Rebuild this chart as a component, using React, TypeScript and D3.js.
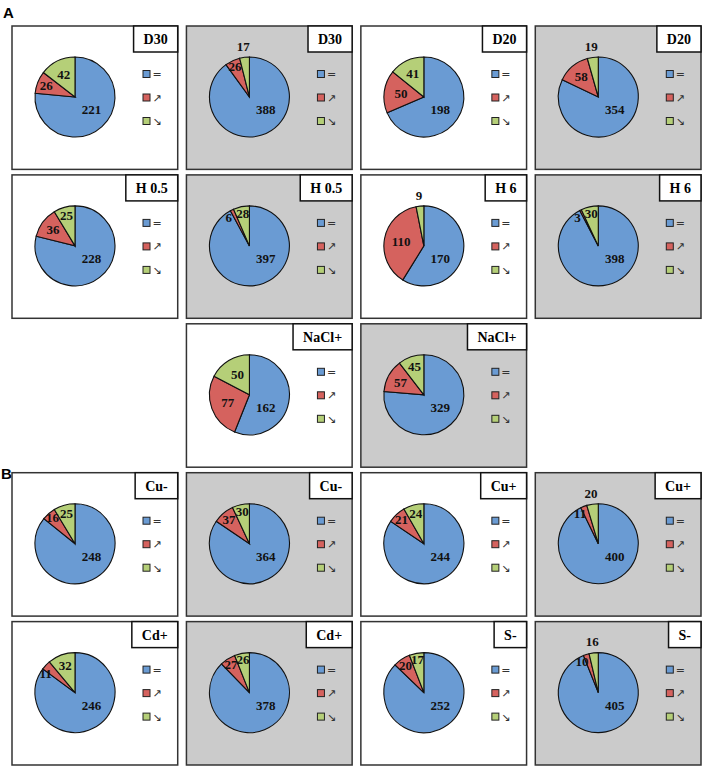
import { useEffect, useRef } from 'react'
import * as d3 from 'd3'

// one entry per panel, left to right, top to bottom
const titles = ['D30', 'D30', 'D20', 'D20', 'H 0.5', 'H 0.5', 'H 6', 'H 6', 'NaCl+', 'NaCl+',
  'Cu-', 'Cu-', 'Cu+', 'Cu+', 'Cd+', 'Cd+', 'S-', 'S-']
const unchanged = [221, 388, 198, 354, 228, 397, 170, 398, 162, 329, 248, 364, 244, 400, 246, 378, 252, 405]
const upRegulated = [26, 26, 50, 58, 36, 6, 110, 3, 77, 57, 16, 37, 21, 11, 11, 27, 20, 10]
const downRegulated = [42, 17, 41, 19, 25, 28, 9, 30, 50, 45, 25, 30, 24, 20, 32, 26, 17, 16]
const shaded = [false, true, false, true, false, true, false, true, false, true,
  false, true, false, true, false, true, false, true]

// \uFE0E keeps the arrows as plain text glyphs, not emoji
const legendLabels = ['=', '\u2197\uFE0E', '\u2198\uFE0E']
const sliceColors = ['#6a9bd3', '#d5625e', '#b5cf78']

const W = 708
const H = 768

// grid cell for panel i (section A: 4+4+2 centred, section B: 4+4)
function cellOf(i: number): [number, number] {
  if (i < 8) return [Math.floor(i / 4), i % 4]
  if (i < 10) return [2, i - 7]
  return [3 + Math.floor((i - 10) / 4), (i - 10) % 4]
}

export default function App() {
  const svgRef = useRef<SVGSVGElement>(null)

  useEffect(() => {
    if (!svgRef.current) return
    const svg = d3.select(svgRef.current)
    svg.selectAll('*').remove()

    svg.append('rect').attr('width', W).attr('height', H).attr('fill', '#fff')

    const colX = d3.scaleBand<number>().domain([0, 1, 2, 3]).range([12, 701]).paddingInner(0.05)
    const rowY = d3.scaleBand<number>().domain([0, 1, 2, 3, 4]).range([26, 765]).paddingInner(0.037)
    const pw = colX.bandwidth()
    const ph = rowY.bandwidth()

    const r = 40
    const pcx = 63
    const pcy = 71

    const pie = d3.pie<number>().sort(null).value(d => d)
    const arc = d3.arc<d3.PieArcDatum<number>>().innerRadius(0).outerRadius(r)

    // section letters
    svg.append('text').attr('x', 3).attr('y', 18)
      .attr('font-family', 'Liberation Sans, Arial, sans-serif')
      .attr('font-weight', 'bold').attr('font-size', 15).text('A')
    svg.append('text').attr('x', 1).attr('y', 479)
      .attr('font-family', 'Liberation Sans, Arial, sans-serif')
      .attr('font-weight', 'bold').attr('font-size', 15).text('B')

    titles.forEach((title, i) => {
      const [row, col] = cellOf(i)
      const g = svg.append('g')
        .attr('transform', `translate(${colX(col)}, ${rowY(row)})`)

      g.append('rect')
        .attr('width', pw).attr('height', ph)
        .attr('fill', shaded[i] ? '#cbcbcb' : '#fff')
        .attr('stroke', '#333').attr('stroke-width', 1.5)

      // title box in the top right corner
      const tt = g.append('text')
        .attr('font-family', 'Liberation Serif, Times New Roman, serif')
        .attr('font-weight', 'bold').attr('font-size', 14)
        .attr('text-anchor', 'middle').attr('dominant-baseline', 'central')
        .text(title)
      const tw = (tt.node() as SVGTextElement).getComputedTextLength()
      const bw = tw + 20
      const bh = 26
      g.insert('rect', 'text')
        .attr('x', pw - bw).attr('y', 0)
        .attr('width', bw).attr('height', bh)
        .attr('fill', '#fff').attr('stroke', '#111').attr('stroke-width', 1.5)
      tt.attr('x', pw - bw / 2).attr('y', bh / 2 + 0.5)

      // pie
      const values = [unchanged[i], upRegulated[i], downRegulated[i]]
      const arcs = pie(values)
      const pg = g.append('g').attr('transform', `translate(${pcx}, ${pcy})`)
      pg.selectAll('path')
        .data(arcs)
        .join('path')
        .attr('d', arc)
        .attr('fill', (_, k) => sliceColors[k])
        .attr('stroke', '#111').attr('stroke-width', 1.1)

      // slice labels, roughly like "best fit"
      arcs.forEach((a, k) => {
        const span = ((a.endAngle - a.startAngle) * 180) / Math.PI
        const mid = (a.startAngle + a.endAngle) / 2
        let ang = mid
        let rad: number
        if (span > 180) {
          ang = (128 * Math.PI) / 180
          rad = 0.52 * r
        } else if (span < 18) {
          if (k === 2) {
            rad = r + 11
          } else {
            ang = mid - (10 * Math.PI) / 180
            rad = 0.88 * r
          }
        } else {
          rad = Math.max(0.58, Math.min(0.88, 0.58 + (60 - span) * 0.007)) * r
        }
        pg.append('text')
          .attr('x', Math.sin(ang) * rad)
          .attr('y', -Math.cos(ang) * rad)
          .attr('text-anchor', 'middle').attr('dominant-baseline', 'central')
          .attr('font-family', 'Liberation Serif, Times New Roman, serif')
          .attr('font-weight', 'bold').attr('font-size', 13)
          .attr('fill', '#111')
          .text(a.data)
      })

      // legend
      const ly = d3.scalePoint<number>().domain([0, 1, 2]).range([48, 95])
      legendLabels.forEach((lab, k) => {
        g.append('rect')
          .attr('x', 131).attr('y', (ly(k) as number) - 3.5)
          .attr('width', 7).attr('height', 7)
          .attr('fill', sliceColors[k]).attr('stroke', '#222').attr('stroke-width', 1)
        g.append('text')
          .attr('x', 140.5).attr('y', (ly(k) as number) + 0.5)
          .attr('dominant-baseline', 'central')
          .attr('font-family', 'DejaVu Sans, sans-serif')
          .attr('font-size', 11)
          .attr('fill', '#333')
          .text(lab)
      })
    })
  }, [])

  return (
    <svg
      ref={svgRef}
      width={W}
      height={H}
      style={{ position: 'absolute', left: 0, top: 0, display: 'block' }}
    />
  )
}
